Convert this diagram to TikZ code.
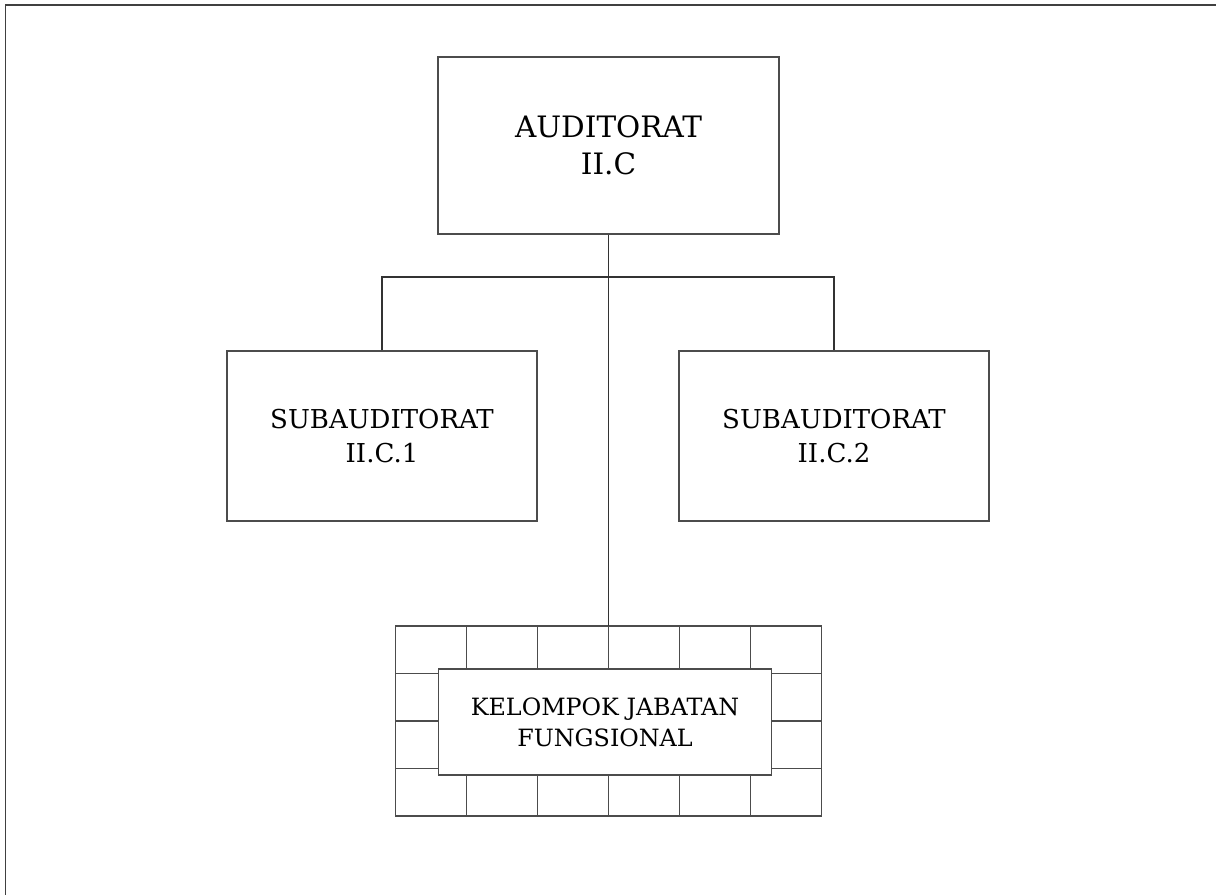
\documentclass[tikz,border=0pt]{standalone}
\usepackage{fontspec}
\setmainfont{DejaVu Serif}
\begin{document}
\begin{tikzpicture}[x=1pt, y=-1pt, line width=1.3pt,
  kotak/.style={draw=black!70, fill=white, align=center, inner sep=0pt},
  garis/.style={draw=black!80}]
 \useasboundingbox (0,0) rectangle (1216,895);
 \draw[black!75, line width=1.8pt](1216,5)--(5.5,5)--(5.5,895);
 
 \node[kotak, minimum width=341pt, minimum height=177pt, font={\fontsize{29.5}{37.3}\selectfont}] (atas) at (608.5,145.5) {AUDITORAT\\II.C};
 \node[kotak, minimum width=310pt, minimum height=170pt, font={\fontsize{26}{33.3}\selectfont}] (sub1) at (382,436) {SUBAUDITORAT\\II.C.1};
 \node[kotak, minimum width=310pt, minimum height=170pt, font={\fontsize{26}{33.3}\selectfont}] (sub2) at (834,436) {SUBAUDITORAT\\II.C.2};
 
 % kotak-kotak jabatan fungsional
 \draw[black!70](395.5,626) rectangle (821.5,816);
 \foreach \i in {1,...,5} \draw[black!70](395.5+71*\i,626)--++(0,190);
 \foreach \j in {1,2,3} \draw[black!70](395.5,626+47.5*\j)--++(426,0);
 \node[kotak, minimum width=333pt, minimum height=106pt, font={\fontsize{23.8}{31}\selectfont}] (fungsi) at (605,722) {KELOMPOK JABATAN\\FUNGSIONAL};
 
 \coordinate (cabang) at (608.5,277);
 \coordinate (grid) at (608.5,626);
 \draw[garis](atas.south)--(grid);
 \draw[garis](sub1.north)|-(cabang)-|(sub2.north);
 
\end{tikzpicture}
\end{document}
